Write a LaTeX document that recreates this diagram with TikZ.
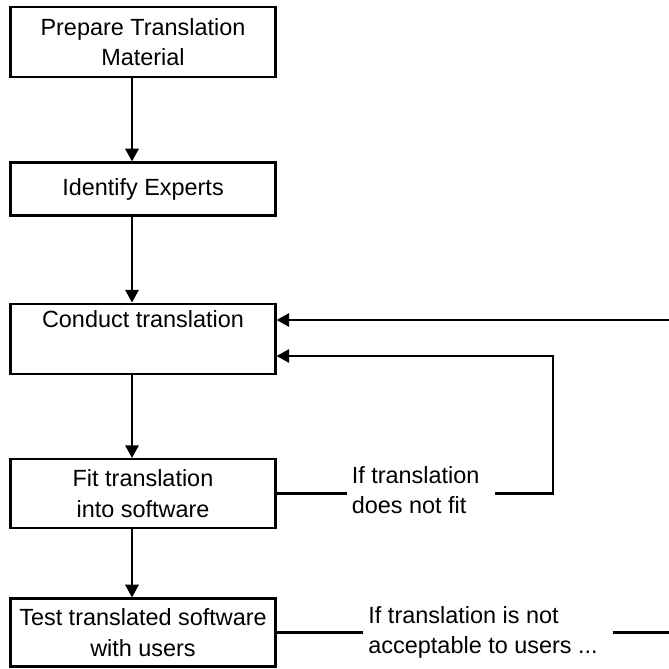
\documentclass[tikz,border=0pt]{standalone}
\usepackage{fontspec}
\setmainfont{Liberation Sans}
\usepackage{tikz}
\usetikzlibrary{positioning,arrows.meta,calc}
\tikzset{
  stage/.style ={draw, rectangle, align=center, minimum width=7.95cm, inner sep=2pt, line width=1.8pt, font=\fontsize{20}{26}\selectfont},
  note/.style  ={align=left, inner sep=1.5mm, font=\fontsize{20}{26}\selectfont},
  arr/.style   ={-{Triangle[length=3.8mm, width=4mm]}, line width=1.8pt},
  link/.style  ={line width=1.8pt},
}

\begin{document}
\begin{tikzpicture}[x=0.03cm, y=-0.03cm]
  \useasboundingbox (0,0) rectangle (669,669);

  \node[stage, minimum height=2.1cm] (prep) at (143,42) {Prepare Translation\\ Material};
  \node[stage, minimum height=1.59cm, below=2.5cm of prep] (ident) {Identify Experts};
  \node[stage, minimum height=2.1cm, below=2.58cm of ident] (cond) {Conduct translation\\ \strut};
  \node[stage, minimum height=2.07cm, below=2.5cm of cond] (fit) {Fit translation\\ into software};
  \node[stage, minimum height=2.04cm, below=2.05cm of fit] (test) {Test translated software\\ with users};

  \draw[arr] ([xshift=-3.3mm]prep.south) -- ([xshift=-3.3mm]ident.north);
  \draw[arr] ([xshift=-3.3mm]ident.south) -- ([xshift=-3.3mm]cond.north);
  \draw[arr] ([xshift=-3.3mm]cond.south) -- ([xshift=-3.3mm]fit.north);
  \draw[arr] ([xshift=-3.3mm]fit.south) -- ([xshift=-3.3mm]test.north);

  % feedback loops
  \node[note, right=2.1cm of fit, yshift=1mm] (fitnote) {If translation\\ does not fit};
  \node[note, right=2.6cm of test, yshift=0mm] (testnote) {If translation is not\\ acceptable to users ...};
  \coordinate (fitturn) at (553,356);
  \coordinate (backin) at (669,320);
  \coordinate (testout) at (669,633);

  \draw[link] (fit.east) -- (fit.east -| fitnote.west);
  \draw[arr] ([xshift=3mm]fitnote.east |- fit.east) -| (fitturn) -- (fitturn -| cond.east);
  \draw[arr] (backin) -- (backin -| cond.east);
  \draw[link] (test.east) -- (test.east -| testnote.west);
  \draw[link] ([xshift=3mm]testnote.east |- test.east) -- (testout |- test.east);
\end{tikzpicture}
\end{document}
